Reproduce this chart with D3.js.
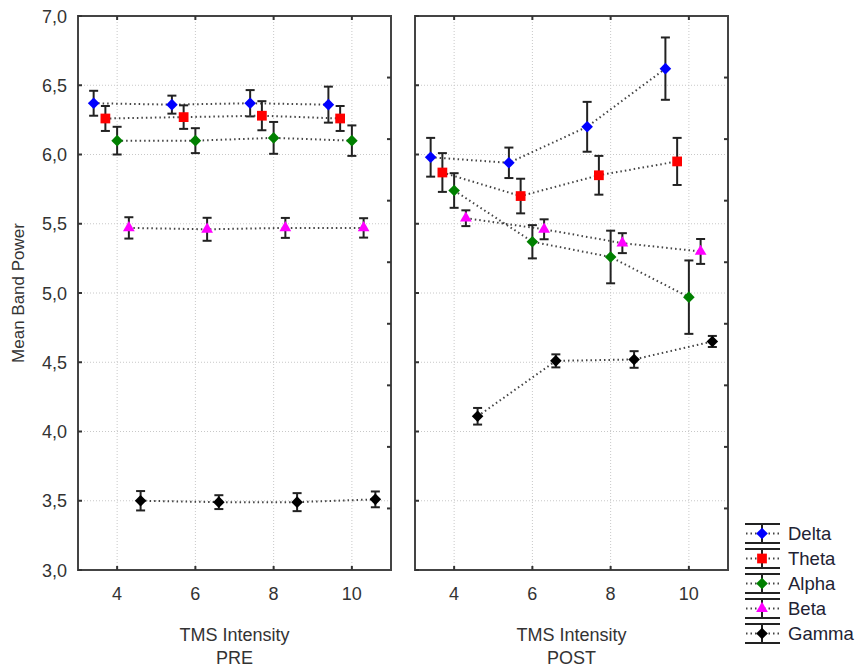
<!DOCTYPE html>
<html><head><meta charset="utf-8">
<script src="https://cdn.jsdelivr.net/npm/d3@7"></script>
<style>body{margin:0;background:#fff}svg{display:block}text{font-family:Arial,"Liberation Sans",sans-serif;fill:#333}</style>
</head><body>
<svg id="c" width="858" height="668"></svg>
<script>
const series = ["Delta","Theta","Alpha","Beta","Gamma"];
const colors = ["#0000ff","#ff0000","#008000","#ff00ff","#000000"];
const shapes = ["diamond","square","diamond","triangle","diamond"];
const intensities = [4,6,8,10];
const panels = ["PRE","POST"];
const yTicks = [3.0,3.5,4.0,4.5,5.0,5.5,6.0,6.5,7.0];
const xTicks = [4,6,8,10];
// mean values [series][intensity]
const preMeans = [
  [6.37,6.36,6.37,6.36],
  [6.26,6.27,6.28,6.26],
  [6.10,6.10,6.12,6.10],
  [5.47,5.46,5.47,5.47],
  [3.50,3.49,3.49,3.51]
];
const preErr = [
  [0.09,0.065,0.095,0.13],
  [0.09,0.085,0.105,0.09],
  [0.10,0.09,0.115,0.11],
  [0.077,0.083,0.072,0.07],
  [0.07,0.05,0.065,0.057]
];
const postMeans = [
  [5.98,5.94,6.20,6.62],
  [5.87,5.70,5.85,5.95],
  [5.74,5.37,5.26,4.97],
  [5.54,5.46,5.36,5.30],
  [4.11,4.51,4.52,4.65]
];
const postErr = [
  [0.14,0.11,0.18,0.225],
  [0.14,0.125,0.14,0.17],
  [0.125,0.12,0.19,0.265],
  [0.057,0.072,0.072,0.09],
  [0.06,0.047,0.06,0.04]
];
const offsets = [-0.6,-0.3,0,0.3,0.6];

const svg = d3.select("#c");
const y = d3.scaleLinear().domain([3,7]).range([570,16]);
const ry = d3.scaleLinear().domain([0,9]).range([570,16]);
const panelRanges = [[78,391],[415,728]];
const allMeans = [preMeans, postMeans];
const allErr = [preErr, postErr];

function symbolPath(shape){
  if (shape==="diamond") { const r=5.8; return `M0,${-r}L${r},0L0,${r}L${-r},0Z`; }
  if (shape==="square") return d3.symbol().type(d3.symbolSquare).size(95)();
  return d3.symbol().type(d3.symbolTriangle).size(60)();
}

panels.forEach((pname, pi) => {
  const x = d3.scaleLinear().domain([3,11]).range(panelRanges[pi]);
  const g = svg.append("g");
  g.selectAll(".gx").data(xTicks).join("line")
    .attr("x1",d=>x(d)).attr("x2",d=>x(d)).attr("y1",y(7)).attr("y2",y(3))
    .attr("stroke","#c8c8c8").attr("stroke-width",1).attr("stroke-dasharray","1,2");
  g.selectAll(".gy").data(yTicks.slice(1,-1)).join("line")
    .attr("x1",x(3)).attr("x2",x(11)).attr("y1",d=>y(d)).attr("y2",d=>y(d))
    .attr("stroke","#c8c8c8").attr("stroke-width",1).attr("stroke-dasharray","1,2");
  g.append("rect").attr("x",x(3)).attr("y",y(7)).attr("width",x(11)-x(3)).attr("height",y(3)-y(7))
    .attr("fill","none").attr("stroke","#444").attr("stroke-width",2);
  xTicks.forEach(t=>{
    g.append("line").attr("x1",x(t)).attr("x2",x(t)).attr("y1",y(3)).attr("y2",y(3)-4).attr("stroke","#333").attr("stroke-width",2);
    g.append("line").attr("x1",x(t)).attr("x2",x(t)).attr("y1",y(7)).attr("y2",y(7)+4).attr("stroke","#333").attr("stroke-width",2);
  });
  yTicks.forEach(t=>{
    g.append("line").attr("x1",x(3)).attr("x2",x(3)+4).attr("y1",y(t)).attr("y2",y(t)).attr("stroke","#333").attr("stroke-width",2);
  });
  d3.range(1,9).forEach(t=>{
    g.append("line").attr("x1",x(11)).attr("x2",x(11)-4).attr("y1",ry(t)).attr("y2",ry(t)).attr("stroke","#333").attr("stroke-width",2);
  });
  g.selectAll(".xl").data(xTicks).join("text")
    .attr("x",d=>x(d)).attr("y",600).attr("text-anchor","middle").attr("font-size",18).text(d=>d);
  g.append("text").attr("x",(x(3)+x(11))/2).attr("y",641).attr("text-anchor","middle").attr("font-size",18).text("TMS Intensity");
  g.append("text").attr("x",(x(3)+x(11))/2).attr("y",664).attr("text-anchor","middle").attr("font-size",18).text(pname);

  const means = allMeans[pi], errs = allErr[pi];
  series.forEach((s, si) => {
    const pts = intensities.map((xi, k) => ({x: x(xi+offsets[si]), y: y(means[si][k]), lo: y(means[si][k]-errs[si][k]), hi: y(means[si][k]+errs[si][k])}));
    g.append("path").attr("d", d3.line().x(d=>d.x).y(d=>d.y)(pts))
      .attr("fill","none").attr("stroke","#444").attr("stroke-width",2).attr("stroke-dasharray","1.5,3");
    pts.forEach(p=>{
      g.append("line").attr("x1",p.x).attr("x2",p.x).attr("y1",p.lo).attr("y2",p.hi).attr("stroke","#222").attr("stroke-width",2);
      g.append("line").attr("x1",p.x-4.5).attr("x2",p.x+4.5).attr("y1",p.lo).attr("y2",p.lo).attr("stroke","#222").attr("stroke-width",2);
      g.append("line").attr("x1",p.x-4.5).attr("x2",p.x+4.5).attr("y1",p.hi).attr("y2",p.hi).attr("stroke","#222").attr("stroke-width",2);
      g.append("path").attr("d",symbolPath(shapes[si]))
        .attr("transform",`translate(${p.x},${p.y})`).attr("fill",colors[si]);
    });
  });
});

svg.selectAll(".yl").data(yTicks).join("text")
  .attr("x",67).attr("y",d=>y(d)+6.5).attr("text-anchor","end").attr("font-size",18)
  .text(d=>d.toFixed(1).replace(".",","));
svg.append("text").attr("transform","translate(24,293) rotate(-90)").attr("text-anchor","middle").attr("font-size",17).text("Mean Band Power");

const ly = d3.scaleBand().domain(series).range([521,646]);
series.forEach((s, si)=>{
  const cy = ly(s)+ly.bandwidth()/2;
  const lg = svg.append("g");
  lg.append("line").attr("x1",745).attr("x2",780).attr("y1",cy-9.5).attr("y2",cy-9.5).attr("stroke","#222").attr("stroke-width",2);
  lg.append("line").attr("x1",745).attr("x2",780).attr("y1",cy+9.5).attr("y2",cy+9.5).attr("stroke","#222").attr("stroke-width",2);
  lg.append("line").attr("x1",762).attr("x2",762).attr("y1",cy-9.5).attr("y2",cy+9.5).attr("stroke","#222").attr("stroke-width",2);
  lg.append("line").attr("x1",746).attr("x2",779).attr("y1",cy).attr("y2",cy).attr("stroke","#444").attr("stroke-width",2).attr("stroke-dasharray","1.5,3");
  lg.append("path").attr("d",symbolPath(shapes[si])).attr("transform",`translate(762,${cy})`).attr("fill",colors[si]);
  lg.append("text").attr("x",788).attr("y",cy+6.5).attr("font-size",18.5).style("fill","#222233").text(s);
});
</script>
</body></html>
